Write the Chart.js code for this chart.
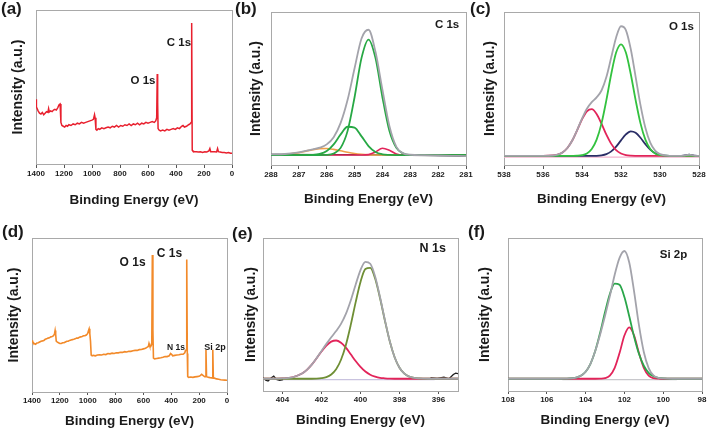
<!DOCTYPE html>
<html>
<head>
<meta charset="utf-8">
<script src="https://cdn.jsdelivr.net/npm/chart.js@4.4.1/dist/chart.umd.min.js"></script>
<style>
  body { margin: 0; background: #fff; }
  #figure { position: relative; width: 709px; height: 431px; overflow: hidden; font-family: "Liberation Sans", Arial, sans-serif; }
  #figure canvas { position: absolute; }
  .tag { position: absolute; font-weight: bold; font-size: 17px; line-height: 17px; color: #1a1a1a; }
</style>
</head>
<body>
<div id="figure">
  <canvas id="chartA" width="238" height="212" style="left:0px;top:0px"></canvas>
  <canvas id="chartB" width="234" height="212" style="left:240px;top:0px"></canvas>
  <canvas id="chartC" width="237" height="212" style="left:472px;top:0px"></canvas>
  <canvas id="chartD" width="236" height="209" style="left:0px;top:222px"></canvas>
  <canvas id="chartE" width="236" height="209" style="left:232px;top:222px"></canvas>
  <canvas id="chartF" width="233" height="209" style="left:476px;top:222px"></canvas>
  <div class="tag" style="left:1px;top:0px">(a)</div>
  <div class="tag" style="left:235px;top:0px">(b)</div>
  <div class="tag" style="left:470px;top:0px">(c)</div>
  <div class="tag" style="left:2px;top:223px">(d)</div>
  <div class="tag" style="left:232px;top:225px">(e)</div>
  <div class="tag" style="left:468px;top:223px">(f)</div>
</div>
<script>
// (a) survey, red
const aTicks = [1400, 1200, 1000, 800, 600, 400, 200, 0];
const aEnergy = [
  1400, 1397, 1392, 1385, 1375, 1365, 1355, 1345, 1335, 1325,
  1315, 1310, 1305, 1295, 1285, 1275, 1265, 1255, 1245, 1235,
  1228, 1222, 1215, 1205, 1195, 1185, 1175, 1165, 1150, 1135,
  1120, 1105, 1090, 1075, 1060, 1045, 1030, 1015, 1000, 990,
  982, 978, 972, 965, 955, 945, 930, 915, 900, 885,
  870, 855, 840, 825, 810, 795, 780, 765, 750, 735,
  720, 705, 690, 675, 660, 645, 630, 615, 600, 585,
  570, 555, 545, 538, 534, 531, 528, 520, 510, 495,
  480, 465, 450, 435, 420, 405, 390, 375, 360, 350,
  340, 325, 310, 300, 292, 288, 284, 280, 270, 255,
  240, 225, 210, 195, 180, 165, 158, 152, 140, 125,
  110, 103, 97, 85, 70, 55, 40, 25, 10, 0
];
const aCounts = [
  42, 37, 36, 34.5, 33, 32.5, 33.5, 32, 33, 34,
  33.5, 36, 33.8, 34.5, 34, 35, 35.5, 35, 36.5, 38.5,
  39, 27, 25, 24.5, 24, 25, 24.5, 25.5, 25, 26,
  25.5, 26.5, 26, 27, 26.5, 27, 27.5, 28, 28.5, 29,
  32, 30, 22.5, 22, 23, 22.5, 23.5, 23, 23.5, 24,
  23.5, 24.5, 24, 25, 24, 25, 24.5, 25.5, 25, 26,
  25, 26, 25.5, 26.5, 25.5, 26.5, 26, 27, 26.5, 27,
  27.5, 27, 28, 30, 58.5, 40, 23, 22, 21.5, 22,
  21.5, 22.5, 22, 22.5, 23, 22.5, 23.5, 23, 24.5, 25,
  24, 24.5, 25.5, 26, 27, 91.5, 9, 8.5, 8, 8,
  7.8, 8, 7.5, 8, 7.8, 8.5, 10, 8, 8, 8,
  7.8, 10, 8, 7.8, 7.5, 7.5, 7.2, 7.5, 7, 7
];

// (b) C 1s
const bTicks = [288, 287, 286, 285, 284, 283, 282, 281];
const bEnergy = [288, 287.5, 287, 286.75, 286.5, 286.25, 286, 285.75, 285.5, 285.25, 285, 284.75, 284.5, 284.25, 284, 283.75, 283.5, 283.25, 283, 282.5, 282, 281.5, 281];
const bEnvelope = [7.0, 7.2, 8.3, 9.2, 10.2, 11.3, 13.5, 18.2, 27.5, 42.6, 63.2, 82.7, 88.4, 74.0, 49.2, 25.5, 11.9, 7.6, 6.7, 6.4, 6.2, 6.0, 5.8];
const bMainPeak = [6.5, 6.5, 6.5, 6.5, 6.5, 6.5, 6.6, 7.5, 11.2, 22.3, 44.3, 70, 82, 70, 44.3, 22.3, 11.2, 7.5, 6.6, 6.5, 6.5, 6.5, 6.5];
const bSecondPeak = [6.5, 6.5, 6.5, 6.5, 6.6, 7.2, 9.1, 13.5, 20, 25, 24.4, 18.7, 12.4, 8.5, 7.0, 6.6, 6.5, 6.5, 6.5, 6.5, 6.5, 6.5, 6.5];
const bHighPeak = [6.55, 6.9, 8.1, 9.05, 10.0, 10.7, 10.75, 10.2, 9.3, 8.3, 7.5, 7.0, 6.7, 6.55, 6.5, 6.5, 6.5, 6.5, 6.5, 6.5, 6.5, 6.5, 6.5];
const bLowPeak = [6.5, 6.5, 6.5, 6.5, 6.5, 6.5, 6.5, 6.5, 6.5, 6.5, 6.5, 6.5, 6.8, 8.5, 10.9, 9.6, 7.2, 6.55, 6.5, 6.5, 6.5, 6.5, 6.5];
const bBackEnergy = [288, 286, 284, 283, 282, 281];
const bBackCounts = [7.0, 6.8, 6.6, 6.3, 6.1, 5.8];

// (c) O 1s
const cTicks = [538, 536, 534, 532, 530, 528];
const cEnergy = [538, 537, 536, 535.5, 535.25, 535, 534.75, 534.5, 534.25, 534, 533.75, 533.5, 533.25, 533, 532.75, 532.5, 532.25, 532, 531.75, 531.5, 531.25, 531, 530.75, 530.5, 530.25, 530, 529.5, 529, 528.75, 528.5, 528.25, 528];
const cEnvelope = [5.9, 5.9, 5.92, 6.2, 6.8, 8.2, 11.1, 16.0, 22.8, 30.3, 36.8, 41.1, 44.2, 48.7, 57.5, 70.4, 83.4, 90.7, 88.2, 75.8, 57.65, 39.1, 24.3, 14.6, 9.4, 7.1, 6.0, 5.9, 6.2, 6.7, 6.1, 5.9];
const cMainPeak = [5.9, 5.9, 5.9, 5.9, 5.9, 5.9, 5.9, 5.93, 6.04, 6.43, 7.58, 10.46, 16.56, 27.2, 42.4, 59.5, 73.5, 78.9, 73.5, 59.5, 42.4, 27.2, 16.56, 10.46, 7.58, 6.43, 5.93, 5.9, 5.9, 5.9, 5.9, 5.9];
const cHighPeak = [5.9, 5.9, 5.92, 6.2, 6.8, 8.2, 11.1, 16.0, 22.7, 29.8, 35.1, 36.5, 33.4, 27.0, 19.8, 13.8, 9.7, 7.5, 6.5, 6.1, 5.95, 5.9, 5.9, 5.9, 5.9, 5.9, 5.9, 5.9, 5.9, 5.9, 5.9, 5.9];
const cLowPeak = [5.9, 5.9, 5.9, 5.9, 5.9, 5.9, 5.9, 5.9, 5.9, 5.9, 5.9, 5.95, 6.0, 6.3, 7.1, 8.9, 12.0, 16.1, 20.0, 22.0, 21.1, 17.8, 13.6, 10.0, 7.7, 6.6, 5.95, 5.9, 6.2, 6.7, 6.1, 5.9];
const cBackEnergy = [538, 528];
const cBackCounts = [5.2, 5.2];

// (d) survey, orange
const dTicks = [1400, 1200, 1000, 800, 600, 400, 200, 0];
const dEnergy = [
  1400, 1395, 1385, 1375, 1365, 1355, 1345, 1335, 1325, 1315,
  1305, 1295, 1285, 1275, 1265, 1255, 1245, 1238, 1234, 1230,
  1226, 1220, 1210, 1200, 1190, 1180, 1170, 1160, 1150, 1140,
  1130, 1120, 1110, 1100, 1090, 1080, 1070, 1060, 1050, 1040,
  1030, 1020, 1010, 1000, 994, 990, 985, 980, 975, 968,
  960, 945, 930, 915, 900, 885, 870, 855, 840, 825,
  810, 795, 780, 765, 750, 735, 720, 705, 690, 675,
  660, 645, 630, 615, 600, 585, 575, 565, 560, 555,
  548, 540, 536, 532, 528, 520, 505, 490, 475, 460,
  445, 430, 415, 405, 398, 390, 375, 360, 345, 330,
  315, 303, 298, 293, 289, 285, 282, 275, 260, 245,
  230, 215, 200, 190, 182, 175, 168, 160, 155, 151,
  147, 140, 130, 120, 110, 106, 102, 98, 90, 75,
  60, 45, 30, 15, 0
];
const dCounts = [
  33.5, 32.5, 31.5, 31, 31.8, 32, 32.5, 33, 33.2, 33.5,
  34.2, 34.5, 35, 35.2, 35.8, 36, 36.5, 38, 40, 37.5,
  33, 32.5, 32, 31.5, 31.5, 32, 32, 32.5, 33, 33,
  33.5, 33.8, 34, 34.2, 34.5, 35, 35, 35.5, 35.8, 36,
  36.5, 36.5, 37, 38, 40, 41, 38, 33, 24, 23.5,
  23.8, 23.5, 24, 24.2, 24, 24.5, 24.3, 25, 24.8, 25.2,
  25, 25.5, 25.4, 25.8, 25.7, 26.2, 26, 26.5, 26.4, 26.8,
  27, 27, 27.5, 27.6, 28, 28.4, 29, 29.5, 31.5, 30,
  29.5, 31, 89, 40, 22, 21.5, 21.8, 22, 22.2, 22.5,
  23, 23, 23.5, 25, 24.5, 23.5, 23.8, 24, 24.2, 24.5,
  24.5, 25.5, 27, 27, 86, 25, 10, 9.5, 9.7, 9.5,
  9.8, 10, 10.2, 10.8, 11.5, 11, 10.5, 10, 10, 27.5,
  10, 9.7, 9.5, 9.3, 9.2, 9.2, 27.5, 9, 9, 8.5,
  8.3, 8, 7.8, 7.7, 7.6
];

// (e) N 1s
const eTicks = [404, 402, 400, 398, 396];
const eEnergy = [405, 404.5, 404, 403.5, 403, 402.75, 402.5, 402.25, 402, 401.75, 401.5, 401.25, 401, 400.75, 400.5, 400.25, 400, 399.75, 399.5, 399.25, 399, 398.75, 398.5, 398.25, 398, 397.75, 397.5, 397, 396.5, 396, 395.5, 395];
const eEnvelope = [8, 8.0, 8.2, 8.9, 11.4, 13.8, 17.2, 21.5, 26.2, 30.8, 35.1, 39.2, 43.9, 50.4, 59.2, 69.5, 79.05, 84.4, 83.15, 74.9, 61.4, 46.4, 32.6, 22.1, 15.2, 11.3, 9.35, 8.2, 8, 8, 8, 8];
const eMainPeak = [8, 8, 8, 8, 8, 8.0, 8.0, 8.1, 8.4, 9.1, 10.8, 14.2, 20.4, 30.1, 43.2, 57.9, 71.3, 79.7, 80.5, 73.5, 60.8, 46.1, 32.5, 22.1, 15.2, 11.3, 9.35, 8.2, 8.0, 8, 8, 8];
const eHighPeak = [8, 8.0, 8.2, 8.9, 11.4, 13.8, 17.2, 21.4, 25.8, 29.7, 32.3, 33.0, 31.5, 28.3, 24.0, 19.6, 15.75, 12.7, 10.65, 9.4, 8.6, 8.3, 8.1, 8.0, 8, 8, 8, 8, 8, 8, 8, 8];
const eBackEnergy = [404.3, 396.2];
const eBackCounts = [7.4, 7.4];
const eRawEnergy = [405, 404.86, 404.74, 404.57, 404.45, 404.31, 404.14, 403.97, 400, 396.41, 396.07, 395.72, 395.46, 395.24, 395.12, 394.98];
const eRawCounts = [8.7, 7.1, 6.5, 8.7, 9.7, 7.6, 6.9, 7.4, null, 8.7, 8.2, 9.1, 8.0, 10.8, 11.7, 11.3];

// (f) Si 2p
const fTicks = [108, 106, 104, 102, 100, 98];
const fEnergy = [108, 107, 106, 105.5, 105, 104.75, 104.5, 104.25, 104, 103.75, 103.5, 103.25, 103, 102.75, 102.5, 102.25, 102, 101.75, 101.5, 101.25, 101, 100.75, 100.5, 100.25, 100, 99.5, 99, 98.5, 98];
const fEnvelope = [8, 8, 8, 8, 8.06, 8.2, 8.7, 9.9, 12.6, 17.8, 26.3, 37, 49, 62, 76, 87, 91.5, 84, 65, 43, 25.5, 15, 10.2, 8.6, 8.2, 8, 8, 8, 8];
const fHighPeak = [8, 8, 8, 8, 8.06, 8.2, 8.7, 9.9, 12.6, 17.8, 26.3, 38.1, 51.5, 63.4, 70.2, 69.4, 61.4, 48.8, 35.5, 24.3, 16.5, 11.9, 9.6, 8.6, 8.2, 8.0, 8, 8, 8];
const fLowPeak = [8, 8, 8, 8, 8, 8, 8, 8, 8, 8, 8, 8.07, 8.4, 10.1, 15.1, 24.8, 36.3, 41.6, 36.3, 24.8, 15.1, 10.1, 8.4, 8.07, 8.0, 8, 8, 8, 8];
const fBackEnergy = [105.2, 99.3];
const fBackCounts = [7.5, 7.5];
const fRawEnergy = [108, 107.5, 107, 106.5, 106, 105.5, 105, 104.6, 102, 100.2, 99.8, 99.4, 99, 98.6, 98.2, 98];
const fRawCounts = [7.7, 8.0, 7.9, 8.1, 7.9, 8.0, 8.1, 8.3, null, 8.1, 7.9, 8.0, 7.8, 8.0, 7.9, 8.0];

const fontFamily = '"Liberation Sans", Arial, sans-serif';
const textColor = "#1a1a1a";

// grey frame round the plot area
const boxFrame = {
  id: "boxFrame",
  beforeDatasetsDraw(chart) {
    const area = chart.chartArea;
    const ctx = chart.ctx;
    ctx.save();
    ctx.strokeStyle = "#a9a9a9";
    ctx.lineWidth = 1;
    ctx.strokeRect(Math.round(area.left) + 0.5, Math.round(area.top) + 0.5,
      Math.round(area.right - area.left), Math.round(area.bottom - area.top));
    ctx.restore();
  },
};

// peak names written at data coordinates
const peakLabels = {
  id: "peakLabels",
  afterDatasetsDraw(chart, args, opts) {
    const ctx = chart.ctx;
    const xScale = chart.scales.x;
    const yScale = chart.scales.y;
    ctx.save();
    ctx.fillStyle = textColor;
    ctx.textAlign = "center";
    ctx.textBaseline = "middle";
    (opts.items || []).forEach((item) => {
      ctx.font = "bold " + item.size + "px " + fontFamily;
      ctx.fillText(item.text, xScale.getPixelForValue(item.x), yScale.getPixelForValue(item.y));
    });
    ctx.restore();
  },
};

function series(xs, ys, color, width, smooth) {
  return {
    data: xs.map((x, i) => ({ x: x, y: ys[i] })),
    borderColor: color,
    borderWidth: width,
    pointRadius: 0,
    fill: false,
    tension: 0,
    cubicInterpolationMode: smooth ? "monotone" : "default",
  };
}

function drawPanel(id, opt) {
  return new Chart(document.getElementById(id), {
    type: "line",
    data: { datasets: opt.datasets },
    options: {
      responsive: false,
      animation: false,
      events: [],
      layout: { padding: opt.padding },
      plugins: {
        legend: { display: false },
        tooltip: { enabled: false },
        peakLabels: { items: opt.labels },
      },
      scales: {
        x: {
          type: "linear",
          reverse: true,
          min: opt.min,
          max: opt.max,
          afterBuildTicks: (scale) => {
            scale.ticks = opt.ticks.map((v) => ({ value: v }));
          },
          border: { display: false },
          grid: { drawOnChartArea: false, drawTicks: true, tickLength: opt.tickLength, color: "#555" },
          ticks: {
            autoSkip: false,
            maxRotation: 0,
            padding: 1,
            color: textColor,
            font: { family: fontFamily, size: 8, weight: "bold" },
            callback: (v) => String(v),
          },
          title: {
            display: true,
            text: "Binding Energy (eV)",
            color: textColor,
            font: { family: fontFamily, size: 13.5, weight: "bold" },
            padding: { top: opt.xTitleGap, bottom: 1 },
          },
        },
        y: {
          min: 0,
          max: 100,
          border: { display: false },
          grid: { display: false, drawTicks: false },
          ticks: { display: false },
          title: {
            display: true,
            text: "Intensity (a.u.)",
            color: textColor,
            font: { family: fontFamily, size: 14, weight: "bold" },
            padding: { top: 0, bottom: opt.yTitleGap },
          },
        },
      },
    },
    plugins: [boxFrame, peakLabels],
  });
}

const grey = "#a3a3ab";
const crimson = "#e2245a";

drawPanel("chartA", {
  min: 0, max: 1400, ticks: aTicks, tickLength: 4, xTitleGap: 12.3, yTitleGap: 9.1,
  padding: { left: 10.1, right: 6, top: 10, bottom: 2.9 },
  datasets: [series(aEnergy, aCounts, "#e8202e", 1.5, false)],
  labels: [
    { text: "C 1s", x: 379, y: 78.7, size: 11.5 },
    { text: "O 1s", x: 636, y: 54.2, size: 11.5 },
  ],
});

drawPanel("chartB", {
  min: 281, max: 288, ticks: bTicks, tickLength: 4, xTitleGap: 10.8, yTitleGap: 6.1,
  padding: { left: 8.1, right: 8, top: 12, bottom: 3.4 },
  datasets: [
    series(bEnergy, bEnvelope, grey, 1.8, true),
    series(bEnergy, bMainPeak, "#27a844", 1.8, true),
    series(bEnergy, bSecondPeak, "#27a844", 1.8, true),
    series(bEnergy, bLowPeak, crimson, 1.6, true),
    series(bEnergy, bHighPeak, "#f0a048", 1.6, true),
    series(bBackEnergy, bBackCounts, "#1e1e1e", 1.3, false),
  ],
  labels: [{ text: "C 1s", x: 281.68, y: 91.6, size: 11.5 }],
});

drawPanel("chartC", {
  min: 528, max: 538, ticks: cTicks, tickLength: 4, xTitleGap: 10.8, yTitleGap: 5.6,
  padding: { left: 9.6, right: 10, top: 12, bottom: 3.4 },
  datasets: [
    series(cEnergy, cEnvelope, grey, 1.8, true),
    series(cEnergy, cMainPeak, "#33c23f", 1.8, true),
    series(cEnergy, cHighPeak, crimson, 1.8, true),
    series(cEnergy, cLowPeak, "#2a2d66", 1.8, true),
    series(cBackEnergy, cBackCounts, "#f3b3cf", 1.3, false),
  ],
  labels: [{ text: "O 1s", x: 528.9, y: 90.6, size: 11.5 }],
});

drawPanel("chartD", {
  min: 0, max: 1400, ticks: dTicks, tickLength: 3, xTitleGap: 6.3, yTitleGap: 9.6,
  padding: { left: 5.6, right: 9, top: 16, bottom: 0.9 },
  datasets: [series(dEnergy, dCounts, "#f28a2a", 1.6, false)],
  labels: [
    { text: "O 1s", x: 678, y: 83.9, size: 12 },
    { text: "C 1s", x: 413, y: 90, size: 12 },
    { text: "N 1s", x: 366, y: 29, size: 8.5 },
    { text: "Si 2p", x: 86, y: 29, size: 9 },
  ],
});

drawPanel("chartE", {
  min: 395, max: 405, ticks: eTicks, tickLength: 3, xTitleGap: 6.3, yTitleGap: 3.1,
  padding: { left: 11.1, right: 10, top: 16, bottom: 1.9 },
  datasets: [
    series(eEnergy, eEnvelope, grey, 1.8, true),
    series(eEnergy, eMainPeak, "#6f8f35", 1.8, true),
    series(eEnergy, eHighPeak, crimson, 1.8, true),
    series(eRawEnergy, eRawCounts, "#1e1e1e", 1.3, false),
    series(eBackEnergy, eBackCounts, "#c9c3df", 1.3, false),
  ],
  labels: [{ text: "N 1s", x: 396.3, y: 92.9, size: 12.5 }],
});

drawPanel("chartF", {
  min: 98, max: 108, ticks: fTicks, tickLength: 3, xTitleGap: 6.8, yTitleGap: 14.6,
  padding: { left: 0.6, right: 7, top: 16, bottom: 1.4 },
  datasets: [
    series(fEnergy, fEnvelope, grey, 1.8, true),
    series(fEnergy, fHighPeak, "#2aa64a", 1.8, true),
    series(fEnergy, fLowPeak, crimson, 1.8, true),
    series(fRawEnergy, fRawCounts, "#2a2d50", 1.3, false),
    series(fBackEnergy, fBackCounts, "#c8c8cc", 1.3, false),
  ],
  labels: [{ text: "Si 2p", x: 99.47, y: 89, size: 11.5 }],
});
</script>
</body>
</html>
